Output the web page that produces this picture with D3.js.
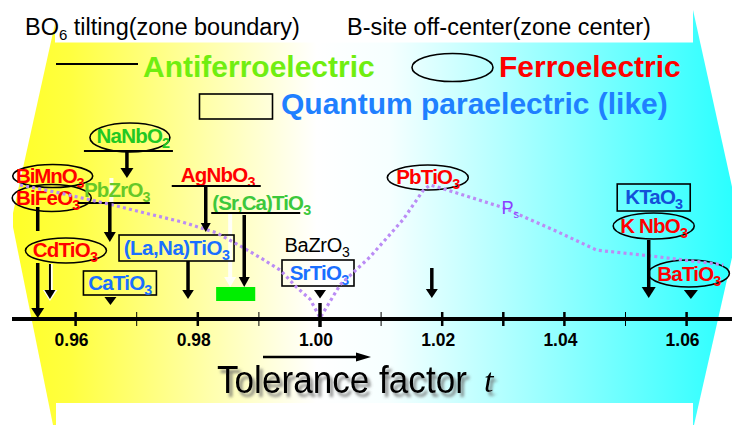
<!DOCTYPE html>
<html><head><meta charset="utf-8">
<script src="https://cdn.jsdelivr.net/npm/d3@7"></script>
<style>
body{margin:0;background:#fff}
svg{display:block}
</style>
</head><body>
<svg id="chart" width="732" height="425" font-family="'Liberation Sans',Arial,Helvetica,sans-serif"></svg>
<script>
// ---------------- data ----------------
const tickValues = [0.96, 0.97, 0.98, 0.99, 1.00, 1.01, 1.02, 1.03, 1.04, 1.05, 1.06];
const minorTicks = [0.97, 0.99, 1.01, 1.05];
const tickLabels = ["0.96", "0.98", "1.00", "1.02", "1.04", "1.06"];

// spontaneous polarisation trend (arbitrary units) versus tolerance factor
const psT      = [0.9509, 0.9574, 0.9661, 0.9722, 0.9776, 0.9831, 0.9874, 0.9907, 0.9935, 0.9962, 0.9984, 1.0000,
                  1.0033, 1.0082, 1.0136, 1.0169, 1.0180, 1.0196, 1.0300, 1.0388, 1.0453, 1.0535, 1.0660];
const psValues = [1.00, 0.94, 0.85, 0.78, 0.72, 0.64, 0.53, 0.44, 0.36, 0.23, 0.14, 0.00,
                  0.25, 0.46, 0.74, 0.96, 1.00, 0.98, 0.83, 0.65, 0.51, 0.47, 0.40];

const materials = ["BiMnO3", "BiFeO3", "CdTiO3", "NaNbO2", "PbZrO3", "CaTiO3", "(La,Na)TiO3", "AgNbO3",
                   "(Sr,Ca)TiO3", "BaZrO3", "SrTiO3", "PbTiO3", "KTaO3", "K NbO3", "BaTiO3"];
const materialT = [0.9538, 0.9538, 0.9558, 0.9684, 0.9656, 0.9657, 0.9784, 0.9813,
                   0.9876, 1.0000, 1.0000, 1.0183, 1.0538, 1.0538, 1.0607];
const materialPhase = ["FE", "FE", "FE", "AFE", "AFE2", "QPE", "QPE", "FE",
                       "AFE3", "none", "QPE", "FE", "QPE2", "FE", "FE"];
const srCaRange = [0.9830, 0.9894];
const hiddenArrowT = [0.9657, 0.9853];

const titleLeft = ["BO", "6", " tilting(zone boundary)"];
const titleRight = "B-site off-center(zone center)";
const legendLabels = ["Antiferroelectric", "Ferroelectric", "Quantum paraelectric (like)"];
const axisTitle = "Tolerance factor";

// ---------------- styles ----------------
const col = {
  FE: "#ff0000", AFE: "#22c822", AFE2: "#66c828", AFE3: "#3cc83c",
  QPE: "#1a6fff", QPE2: "#1450d8", none: "#000000",
  legendAFE: "#70ee10", legendQPE: "#1f80ff", ps: "#bb8cf5", psText: "#8a3cff"
};

const svg = d3.select("#chart");
const x = d3.scaleLinear().domain([0.95, 1.07]).range([14.5, 747.7]);
const y = d3.scaleLinear().domain([0, 1]).range([318, 185]);

const defs = svg.append("defs");
const grad = defs.append("linearGradient").attr("id", "bg")
  .attr("gradientUnits", "userSpaceOnUse").attr("x1", 13).attr("x2", 736).attr("y1", 0).attr("y2", 0);
[[0, "#ffff28"], [0.08, "#ffff40"], [0.42, "#ffffff"], [0.52, "#f6ffff"], [1, "#28ffff"]]
  .forEach(([o, c]) => grad.append("stop").attr("offset", o).attr("stop-color", c));
const sh = defs.append("filter").attr("id", "shadow").attr("x", "-10%").attr("y", "-30%").attr("width", "130%").attr("height", "170%");
sh.append("feDropShadow").attr("dx", 3).attr("dy", 4).attr("stdDeviation", 1.6)
  .attr("flood-color", "#666").attr("flood-opacity", 0.75);

// background band
svg.append("path")
  .attr("d", "M58,10 L693,10 L736,205 L736,240 L694,425 L53,425 L13,227 L13,213 Z")
  .attr("fill", "url(#bg)");
svg.append("rect").attr("x", 55).attr("y", 0).attr("width", 638).attr("height", 42.5).attr("fill", "#fff");
svg.append("rect").attr("x", 56).attr("y", 403).attr("width", 637).attr("height", 22).attr("fill", "#fff");

// titles
const t1 = svg.append("text").attr("x", 25).attr("y", 35).attr("font-size", 23.5).attr("fill", "#000");
t1.append("tspan").text(titleLeft[0]);
t1.append("tspan").attr("font-size", 15).attr("dy", 5).text(titleLeft[1]);
t1.append("tspan").attr("dy", -5).text(titleLeft[2]);
svg.append("text").attr("x", 347).attr("y", 35).attr("font-size", 23.5).attr("fill", "#000").text(titleRight);

// legend
svg.append("line").attr("x1", 56).attr("x2", 138).attr("y1", 64).attr("y2", 64).attr("stroke", "#000").attr("stroke-width", 2);
svg.append("text").attr("x", 143).attr("y", 77).attr("font-size", 30).attr("font-weight", "bold")
  .attr("fill", col.legendAFE).text(legendLabels[0]);
svg.append("ellipse").attr("cx", 452.5).attr("cy", 67.5).attr("rx", 40.5).attr("ry", 14)
  .attr("fill", "none").attr("stroke", "#000").attr("stroke-width", 1.6);
svg.append("text").attr("x", 499).attr("y", 77).attr("font-size", 30).attr("font-weight", "bold")
  .attr("fill", col.FE).text(legendLabels[1]);
svg.append("rect").attr("x", 199.5).attr("y", 94).attr("width", 73).attr("height", 25)
  .attr("fill", "none").attr("stroke", "#000").attr("stroke-width", 1.6);
svg.append("text").attr("x", 281).attr("y", 114).attr("font-size", 30).attr("font-weight", "bold")
  .attr("fill", col.legendQPE).text(legendLabels[2]);

// ---------------- helpers ----------------
function chem(g, str, cx, by, color, opts = {}) {
  const m = str.match(/^(.*?)(\d+)$/);
  const size = opts.size || 20.5;
  const t = g.append("text").attr("x", cx).attr("y", by).attr("text-anchor", "middle")
    .attr("font-size", size).attr("font-weight", opts.weight || "bold")
    .attr("letter-spacing", opts.ls == null ? -0.8 : opts.ls).attr("fill", color);
  if (m) {
    t.append("tspan").text(m[1]);
    t.append("tspan").attr("font-size", size * 0.7).attr("dy", 5).text(m[2]);
  } else t.text(str);
  return t;
}
function arrow(g, xp, y1, y2, opts = {}) {
  const hl = opts.hl || 10, hw = opts.hw || 6.5;
  const color = opts.color || "#000";
  g.append("line").attr("x1", xp).attr("x2", xp).attr("y1", y1).attr("y2", y2 - hl + 1)
    .attr("stroke", color).attr("stroke-width", opts.w || 3.5).attr("opacity", opts.op || 1);
  g.append("path").attr("d", `M${xp - hw},${y2 - hl} L${xp + hw},${y2 - hl} L${xp},${y2} Z`)
    .attr("fill", color).attr("opacity", opts.op || 1);
}
function tri(g, xp, y1, y2, hw) {
  g.append("path").attr("d", `M${xp - hw},${y1} L${xp + hw},${y1} L${xp},${y2} Z`).attr("fill", "#000");
}
const T = name => x(materialT[materials.indexOf(name)]);
const C = name => col[materialPhase[materials.indexOf(name)]];

const gMarks = svg.append("g");

// hidden (white) arrows
arrow(gMarks, x(hiddenArrowT[0]) + 1, 178, 205, { color: "#fff", w: 4, hl: 1, hw: 2, op: 0.9 });
arrow(gMarks, x(hiddenArrowT[1]), 213, 287, { color: "#fff", w: 4, hl: 10, hw: 6, op: 0.9 });

// green bar (Sr,Ca)TiO3 range
gMarks.append("rect").attr("x", x(srCaRange[0])).attr("y", 287)
  .attr("width", x(srCaRange[1]) - x(srCaRange[0])).attr("height", 14).attr("fill", "#00ee00");

// labels ------------------------------------------------
const gL = svg.append("g");
const ell = (cx, cy, rx, ry) => gL.append("ellipse").attr("cx", cx).attr("cy", cy).attr("rx", rx).attr("ry", ry)
  .attr("fill", "none").attr("stroke", "#000").attr("stroke-width", 1.6);
const box = (x0, y0, w, h) => gL.append("rect").attr("x", x0).attr("y", y0).attr("width", w).attr("height", h)
  .attr("fill", "none").attr("stroke", "#000").attr("stroke-width", 1.6);
const uline = (x1, x2, yy) => gL.append("line").attr("x1", x1).attr("x2", x2).attr("y1", yy).attr("y2", yy)
  .attr("stroke", "#000").attr("stroke-width", 2);

{
  const xb = T("BiMnO3");
  ell(xb + 15, 176, 40, 11.5);
  chem(gL, "BiMnO3", xb + 12, 183, C("BiMnO3"), { ls: -1.1 });
  ell(xb + 14, 198, 39.5, 13.5);
  chem(gL, "BiFeO3", xb + 10, 204.5, C("BiFeO3"));
  const xc = T("CdTiO3");
  ell(xc + 16, 250.5, 40.5, 12.5);
  chem(gL, "CdTiO3", xc + 15, 257, C("CdTiO3"));
}
{
  const xn = T("NaNbO2");
  ell(xn + 3, 137.5, 40, 14.5);
  chem(gL, "NaNbO2", xn + 6, 142.5, C("NaNbO2"));
  uline(xn - 43, xn + 46, 151);
}
{
  const xp = T("PbZrO3");
  chem(gL, "PbZrO3", xp + 7, 196.5, C("PbZrO3"));
  uline(xp - 32, xp + 40, 203);
}
{
  const xc = T("CaTiO3");
  box(xc - 27, 271, 73, 24);
  chem(gL, "CaTiO3", xc + 9.5, 290, C("CaTiO3"));
}
{
  const xl = T("(La,Na)TiO3");
  box(xl - 69, 235, 115, 26);
  chem(gL, "(La,Na)TiO3", xl - 11.5, 254.5, C("(La,Na)TiO3"), { ls: -0.5 });
}
{
  const xa = T("AgNbO3");
  chem(gL, "AgNbO3", xa + 12, 182, C("AgNbO3"));
  uline(xa - 34, xa + 55, 186);
}
{
  const xs = T("(Sr,Ca)TiO3");
  chem(gL, "(Sr,Ca)TiO3", xs + 17, 210, C("(Sr,Ca)TiO3"), { ls: -0.9 });
  uline(xs - 33, xs + 56, 213);
}
{
  const xz = T("BaZrO3");
  chem(gL, "BaZrO3", xz - 3, 252, C("BaZrO3"), { weight: "normal", ls: -0.3, size: 20 });
  box(xz - 38, 260, 72, 26);
  chem(gL, "SrTiO3", xz - 1, 279.5, C("SrTiO3"));
}
{
  const xp = T("PbTiO3");
  ell(xp - 4, 177.5, 40.5, 12.5);
  chem(gL, "PbTiO3", xp - 4, 184, C("PbTiO3"));
}
{
  const xk = T("KTaO3");
  box(xk - 31.5, 184, 73, 27);
  chem(gL, "KTaO3", xk + 5, 204, C("KTaO3"));
  ell(xk + 5, 226, 40.5, 13);
  chem(gL, "K NbO3", xk + 5, 233, C("K NbO3"));
}
{
  const xb = T("BaTiO3");
  ell(xb - 2, 273.5, 40.5, 13.5);
  chem(gL, "BaTiO3", xb - 2, 281, C("BaTiO3"));
}

// Ps trend line
const psLine = d3.line().x((d, i) => x(psT[i])).y(d => y(d));
svg.append("path").attr("d", psLine(psValues)).attr("fill", "none")
  .attr("stroke", col.ps).attr("stroke-width", 3.2).attr("stroke-dasharray", "3,3.2");
const pst = svg.append("text").attr("x", x(1.0297)).attr("y", 214).attr("font-size", 18).attr("fill", col.psText);
pst.append("tspan").text("P");
pst.append("tspan").attr("font-size", 11).attr("dy", 4).text("s");

// arrows ------------------------------------------------
const gA = svg.append("g");
const xbf = T("BiFeO3");
gA.append("line").attr("x1", xbf).attr("x2", xbf).attr("y1", 207).attr("y2", 231).attr("stroke", "#000").attr("stroke-width", 3.5);
arrow(gA, xbf, 263, 318);
{
  const xc = T("CdTiO3");
  gA.append("line").attr("x1", xc + 0.8).attr("x2", xc + 0.8).attr("y1", 264).attr("y2", 292).attr("stroke", "#fff").attr("stroke-width", 4);
  gA.append("path").attr("d", `M${xc - 7},${290} L${xc + 7.5},${290} L${xc},${301} Z`).attr("fill", "#fff");
  arrow(gA, xc, 264, 299, { w: 2, hl: 9, hw: 5.5 });
}
arrow(gA, T("NaNbO2"), 151, 178, { hw: 6.5 });
arrow(gA, T("PbZrO3"), 203, 242, { hw: 6 });
tri(gA, T("CaTiO3"), 297, 305, 6);
arrow(gA, T("(La,Na)TiO3"), 261, 299, { hw: 5.8, hl: 9 });
arrow(gA, T("AgNbO3"), 186, 232, { hw: 5, hl: 9 });
arrow(gA, T("(Sr,Ca)TiO3"), 215, 287, { hw: 5.5, hl: 10 });
tri(gA, T("SrTiO3"), 290, 298.5, 6);
gA.append("line").attr("x1", T("SrTiO3") + 3).attr("x2", T("SrTiO3") + 6).attr("y1", 298).attr("y2", 291)
  .attr("stroke", "#fff").attr("stroke-width", 1);
arrow(gA, T("PbTiO3"), 268, 298, { hw: 6, hl: 9 });
arrow(gA, T("K NbO3"), 240, 298, { hw: 7, hl: 11 });
tri(gA, T("BaTiO3"), 290, 299, 7);

// axis -------------------------------------------------
const gx = svg.append("g");
gx.selectAll("line.tick").data(tickValues).enter().append("line")
  .attr("x1", d => x(d)).attr("x2", d => x(d))
  .attr("y1", d => d === 1.00 ? 303 : 312).attr("y2", d => d === 1.00 ? 327 : 326)
  .attr("stroke", "#000").attr("stroke-width", d => d === 1.00 ? 3.5 : (minorTicks.includes(d) ? 1 : 2.5));
gx.append("line").attr("x1", 12).attr("x2", 732).attr("y1", 319).attr("y2", 319).attr("stroke", "#000").attr("stroke-width", 4.2);
gx.selectAll("text.tl").data(tickLabels).enter().append("text")
  .attr("x", d => x(+d) - 4).attr("y", 346).attr("text-anchor", "middle")
  .attr("font-size", 18).attr("font-weight", "bold").attr("fill", "#000")
  .attr("textLength", 34).attr("lengthAdjust", "spacingAndGlyphs").text(d => d);

// axis arrow and title
svg.append("line").attr("x1", 263).attr("x2", 362).attr("y1", 357).attr("y2", 357).attr("stroke", "#000").attr("stroke-width", 2.5);
svg.append("path").attr("d", "M356,352.5 L371,357 L356,361.5 Z").attr("fill", "#000");
const at = svg.append("g").attr("filter", "url(#shadow)");
const titleText = at.append("text").attr("x", 0).attr("y", 0).attr("font-size", 39).attr("fill", "#000").text(axisTitle);
const natural = titleText.node().getComputedTextLength() || 282;
titleText.attr("transform", `translate(217,393) scale(${250 / natural},1)`);
at.append("text").attr("x", 484).attr("y", 392).attr("font-size", 34).attr("font-style", "italic")
  .attr("font-family", "'Liberation Serif','Times New Roman',serif").attr("fill", "#000").text("t");
</script>
</body></html>
